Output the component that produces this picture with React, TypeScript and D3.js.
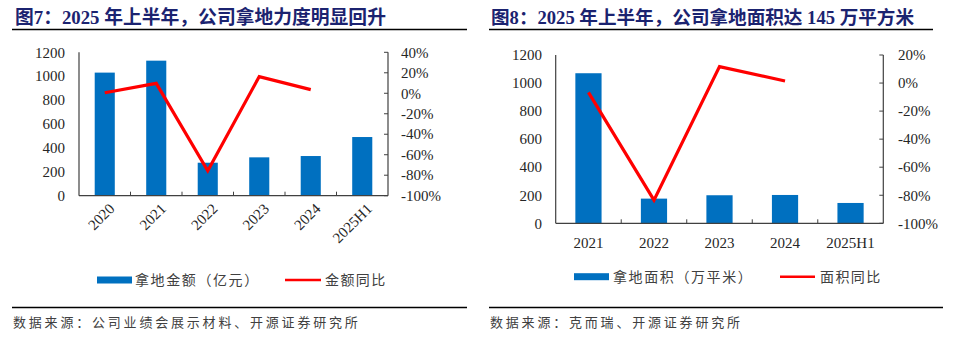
import React from "react";
import * as d3 from "d3";

const cats1 = ["2020", "2021", "2022", "2023", "2024", "2025H1"];
const amount1 = [1030, 1130, 276, 321, 332, 491];
const yoy1: (number | null)[] = [0.5, 9.7, -75.6, 16.3, 3.6, null];
const leftTicks1 = [0, 200, 400, 600, 800, 1000, 1200];
const rightTicks1 = [-100, -80, -60, -40, -20, 0, 20, 40];

const cats2 = ["2021", "2022", "2023", "2024", "2025H1"];
const area2 = [1070, 176, 200, 202, 145];
const yoy2: (number | null)[] = [-6.6, -83.5, 11.7, 1.5, null];
const leftTicks2 = [0, 200, 400, 600, 800, 1000, 1200];
const rightTicks2 = [-100, -80, -60, -40, -20, 0, 20];

const title1 = "图7：2025 年上半年，公司拿地力度明显回升";
const title2 = "图8：2025 年上半年，公司拿地面积达 145 万平方米";
const legendBar1 = "拿地金额（亿元）";
const legendLine1 = "金额同比";
const legendBar2 = "拿地面积（万平米）";
const legendLine2 = "面积同比";
const source1 = "数据来源：公司业绩会展示材料、开源证券研究所";
const source2 = "数据来源：克而瑞、开源证券研究所";

const BLUE = "#0070C0";
const RED = "#FF0000";
const AXIS = "#404040";
const TXT = "#262626";
const NAVY = "#1b2370";
const SERIF = "'Liberation Serif', 'Times New Roman', serif";
const CJK = "'Noto Sans CJK SC', sans-serif";

type PanelProps = {
  cats: string[];
  bars: number[];
  yoy: (number | null)[];
  leftTicks: number[];
  rightTicks: number[];
  x0: number;
  x1: number;
  yTop: number;
  yBot: number;
  rMin: number;
  rMax: number;
  barFrac: number;
  rotate: boolean;
  labelLeftX: number;
  labelRightX: number;
  catLabelY: number;
};

function Panel(p: PanelProps) {
  const x = d3.scaleBand<string>().domain(p.cats).range([p.x0, p.x1]).padding(0);
  const yL = d3.scaleLinear().domain([0, 1200]).range([p.yBot, p.yTop]);
  const yR = d3.scaleLinear().domain([p.rMin, p.rMax]).range([p.yBot, p.yTop]);
  const bw = x.bandwidth() * p.barFrac;
  const pts = p.cats
    .map((c, i) => ({ c, v: p.yoy[i] }))
    .filter((d) => d.v !== null) as { c: string; v: number }[];
  const line = d3
    .line<{ c: string; v: number }>()
    .x((d) => (x(d.c) as number) + x.bandwidth() / 2)
    .y((d) => yR(d.v));
  return (
    <g>
      {p.cats.map((c, i) => (
        <rect
          key={c}
          x={(x(c) as number) + (x.bandwidth() - bw) / 2}
          y={yL(p.bars[i])}
          width={bw}
          height={p.yBot - yL(p.bars[i])}
          fill={BLUE}
        />
      ))}
      <line x1={p.x0} x2={p.x0} y1={p.yTop} y2={p.yBot} stroke={AXIS} strokeWidth={1.2} />
      <line x1={p.x1} x2={p.x1} y1={p.yTop} y2={p.yBot} stroke={AXIS} strokeWidth={1.2} />
      <line x1={p.x0} x2={p.x1} y1={p.yBot} y2={p.yBot} stroke={AXIS} strokeWidth={1.2} />
      {p.cats.slice(1).map((c) => (
        <line
          key={"t" + c}
          x1={x(c) as number}
          x2={x(c) as number}
          y1={p.yBot}
          y2={p.yBot - 4}
          stroke={AXIS}
          strokeWidth={1}
        />
      ))}
      {p.rightTicks.map((t) => (
        <line key={"rt" + t} x1={p.x1 - 4} x2={p.x1} y1={yR(t)} y2={yR(t)} stroke={AXIS} strokeWidth={1} />
      ))}
      {p.leftTicks.map((t) => (
        <text
          key={"lt" + t}
          x={p.labelLeftX}
          y={yL(t)}
          dy="0.35em"
          textAnchor="end"
          fontFamily={SERIF}
          fontSize={15}
          fill={TXT}
        >
          {t}
        </text>
      ))}
      {p.rightTicks.map((t) => (
        <text
          key={"rl" + t}
          x={p.labelRightX}
          y={yR(t)}
          dy="0.35em"
          textAnchor="start"
          fontFamily={SERIF}
          fontSize={15}
          fill={TXT}
        >
          {t + "%"}
        </text>
      ))}
      {p.cats.map((c) => {
        const cx = (x(c) as number) + x.bandwidth() / 2;
        return p.rotate ? (
          <text
            key={"cl" + c}
            transform={`translate(${cx + 7},${p.catLabelY}) rotate(-45)`}
            textAnchor="end"
            dy="0.35em"
            fontFamily={SERIF}
            fontSize={15}
            fill={TXT}
          >
            {c}
          </text>
        ) : (
          <text
            key={"cl" + c}
            x={cx}
            y={p.catLabelY}
            textAnchor="middle"
            fontFamily={SERIF}
            fontSize={15}
            fill={TXT}
          >
            {c}
          </text>
        );
      })}
      <path d={line(pts) || ""} fill="none" stroke={RED} strokeWidth={3.2} strokeLinejoin="miter" />
    </g>
  );
}

export default function App() {
  return (
    <svg
      width={970}
      height={348}
      viewBox="0 0 970 348"
      style={{ position: "absolute", left: 0, top: 0, background: "#fff" }}
    >
      <rect width={970} height={348} fill="#fff" />
      <text x={15} y={24} fontFamily={`${SERIF}, ${CJK}`} fontWeight="bold" fontSize={18.8} fill={NAVY}>
        {title1}
      </text>
      <text x={491} y={24} fontFamily={`${SERIF}, ${CJK}`} fontWeight="bold" fontSize={18.6} fill={NAVY}>
        {title2}
      </text>
      <line x1={12} x2={467} y1={29.5} y2={29.5} stroke="#000" strokeWidth={1.5} />
      <line x1={489} x2={933} y1={29.5} y2={29.5} stroke="#000" strokeWidth={1.5} />

      <Panel
        cats={cats1}
        bars={amount1}
        yoy={yoy1}
        leftTicks={leftTicks1}
        rightTicks={rightTicks1}
        x0={79}
        x1={388}
        yTop={52.3}
        yBot={195.7}
        rMin={-100}
        rMax={40}
        barFrac={0.39}
        rotate={true}
        labelLeftX={65}
        labelRightX={401}
        catLabelY={206}
      />
      <Panel
        cats={cats2}
        bars={area2}
        yoy={yoy2}
        leftTicks={leftTicks2}
        rightTicks={rightTicks2}
        x0={555.7}
        x1={883.3}
        yTop={55}
        yBot={223.3}
        rMin={-100}
        rMax={20}
        barFrac={0.4}
        rotate={false}
        labelLeftX={542}
        labelRightX={898}
        catLabelY={248}
      />

      <rect x={97} y={276.5} width={35} height={7} fill={BLUE} />
      <text x={135} y={285} fontFamily={CJK} fontSize={14} letterSpacing={1.6} fill="#404040">
        {legendBar1}
      </text>
      <line x1={285} x2={321} y1={280} y2={280} stroke={RED} strokeWidth={2.5} />
      <text x={325} y={285} fontFamily={CJK} fontSize={14} letterSpacing={1.4} fill="#404040">
        {legendLine1}
      </text>

      <rect x={574} y={273.2} width={35} height={7} fill={BLUE} />
      <text x={613} y={282} fontFamily={CJK} fontSize={14} letterSpacing={1.6} fill="#404040">
        {legendBar2}
      </text>
      <line x1={780} x2={815} y1={276.7} y2={276.7} stroke={RED} strokeWidth={2.5} />
      <text x={820} y={282} fontFamily={CJK} fontSize={14} letterSpacing={1.4} fill="#404040">
        {legendLine2}
      </text>

      <line x1={12} x2={467} y1={307.5} y2={307.5} stroke="#000" strokeWidth={1.5} />
      <line x1={489} x2={943} y1={307.5} y2={307.5} stroke="#000" strokeWidth={1.5} />
      <text x={13} y={327} fontFamily={CJK} fontSize={13} letterSpacing={2.8} fill="#404040">
        {source1}
      </text>
      <text x={490} y={327} fontFamily={CJK} fontSize={13} letterSpacing={2.8} fill="#404040">
        {source2}
      </text>
    </svg>
  );
}
